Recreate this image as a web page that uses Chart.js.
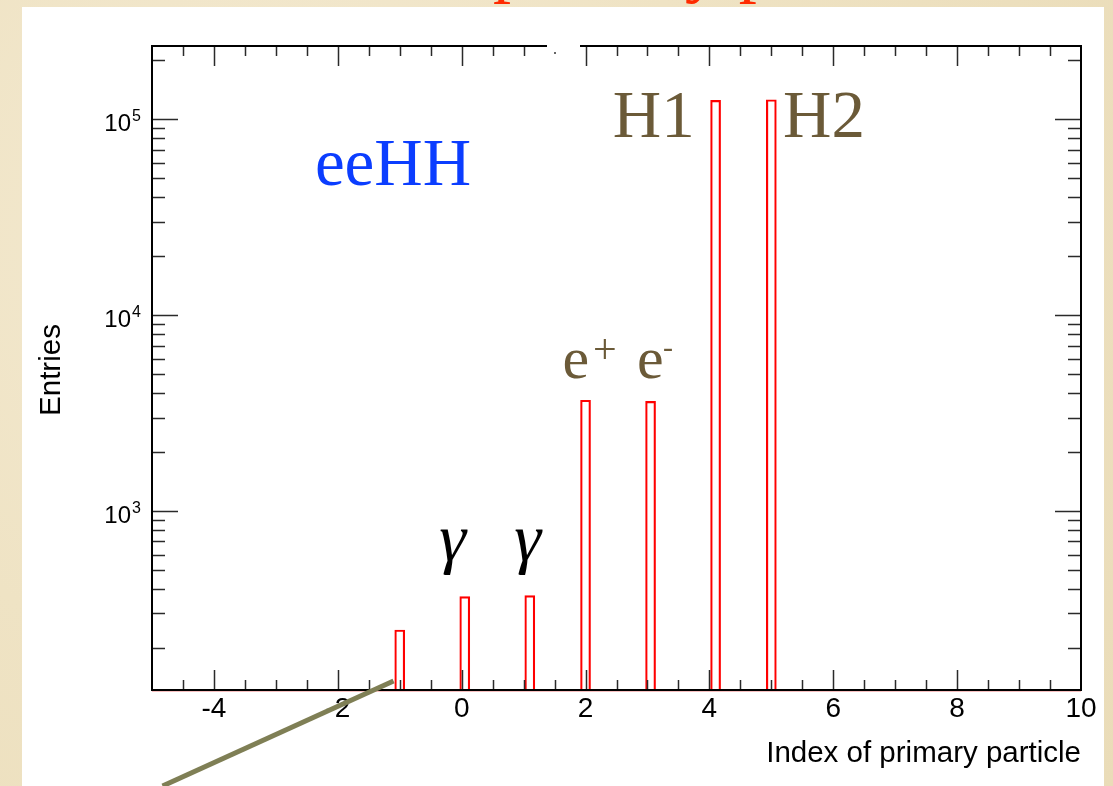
<!DOCTYPE html>
<html>
<head>
<meta charset="utf-8">
<script src="https://cdn.jsdelivr.net/npm/chart.js@4.4.1/dist/chart.umd.min.js"></script>
<style>
  html, body { margin: 0; padding: 0; width: 1113px; height: 786px; overflow: hidden; }
  body {
    background: radial-gradient(circle at 25% 30%, #f4ead2 0%, #efe3c4 45%, #eadcb8 100%);
    position: relative;
  }
  #title {
    position: absolute; left: 233px; top: -71px;
    font: 72px/72px "Liberation Serif", serif; color: #ff2a00; white-space: nowrap;
  }
  #panel { position: absolute; left: 22px; top: 7px; width: 1082px; height: 800px; background: #fff; }
  #chart { position: absolute; left: 0; top: 0; }
</style>
</head>
<body>
<div id="title">Index of primary particle</div>
<div id="panel"></div>
<canvas id="chart" width="1113" height="786"></canvas>
<script>
// histogram bins that have entries (bin centre, entries)
const binCenters = [-1.0, 0.05, 1.1, 2.0, 3.05, 4.1, 5.0];
const entries = [247, 366, 370, 3680, 3630, 125000, 126000];

const xRange = [-5, 10];
const yRange = [122, 237000];
const xTickLabels = [-4, -2, 0, 2, 4, 6, 8, 10];
const yDecades = [1000, 10000, 100000];
const yExponents = ["3", "4", "5"];

// text annotations, placed in data coordinates
const notes = [
  { text: "eeHH", x: -2.37, y: 46000, font: '67px "Liberation Serif"', color: "#0b3dff" },
  { text: "H1", x: 2.44, y: 80900, font: '67px "Liberation Serif"', color: "#6b5a38" },
  { text: "H2", x: 5.19, y: 80900, font: '67px "Liberation Serif"', color: "#6b5a38" },
  { text: "e", x: 1.63, y: 4780, font: '60px "Liberation Serif"', color: "#6b5a38" },
  { text: "+", x: 2.12, y: 5690, font: '42px "Liberation Serif"', color: "#6b5a38" },
  { text: "e", x: 2.83, y: 4780, font: '60px "Liberation Serif"', color: "#6b5a38" },
  { text: "-", x: 3.25, y: 6100, font: '30px "Liberation Serif"', color: "#6b5a38" },
  { text: "\u03b3", x: -0.36, y: 555, font: 'italic 68px "Liberation Serif"', color: "#000" },
  { text: "\u03b3", x: 0.85, y: 555, font: 'italic 68px "Liberation Serif"', color: "#000" },
];

function minorYTicks() {
  const out = [];
  for (let d = 100; d <= 100000; d *= 10) {
    for (let m = 2; m <= 9; m++) {
      const v = m * d;
      if (v > yRange[0] && v < yRange[1]) out.push(v);
    }
  }
  return out;
}

const rootFrame = {
  id: "rootFrame",
  afterDatasetsDraw(chart) {
    const { ctx, chartArea: a, scales: { x, y } } = chart;
    ctx.save();

    // empty-bin outline along the bottom
    ctx.strokeStyle = "#e00000";
    ctx.lineWidth = 1.5;
    ctx.beginPath();
    ctx.moveTo(a.left, a.bottom + 0.5);
    ctx.lineTo(a.right, a.bottom + 0.5);
    ctx.stroke();

    // ticks (inside the frame, on all four sides)
    ctx.strokeStyle = "#2a2a2a";
    ctx.lineWidth = 1.5;
    ctx.beginPath();
    for (let v = xRange[0] + 0.5; v < xRange[1]; v += 0.5) {
      const px = Math.round(x.getPixelForValue(v)) + 0.5;
      const len = Math.abs(v % 2) < 1e-6 ? 20 : 10;
      ctx.moveTo(px, a.bottom); ctx.lineTo(px, a.bottom - len);
      ctx.moveTo(px, a.top); ctx.lineTo(px, a.top + len);
    }
    yDecades.forEach(v => {
      const py = Math.round(y.getPixelForValue(v)) + 0.5;
      ctx.moveTo(a.left, py); ctx.lineTo(a.left + 26, py);
      ctx.moveTo(a.right, py); ctx.lineTo(a.right - 26, py);
    });
    minorYTicks().forEach(v => {
      const py = Math.round(y.getPixelForValue(v)) + 0.5;
      ctx.moveTo(a.left, py); ctx.lineTo(a.left + 13, py);
      ctx.moveTo(a.right, py); ctx.lineTo(a.right - 13, py);
    });
    ctx.stroke();

    // frame
    ctx.strokeStyle = "#000";
    ctx.lineWidth = 2;
    ctx.strokeRect(a.left, a.top, a.right - a.left, a.bottom - a.top);

    // gap in the top edge of the frame
    ctx.fillStyle = "#fff";
    ctx.fillRect(547, a.top - 4, 33, 26);
    ctx.fillStyle = "#666";
    ctx.fillRect(554, a.top + 6, 2, 2);

    // x tick labels
    ctx.fillStyle = "#000";
    ctx.font = '28px "Liberation Sans"';
    ctx.textAlign = "center";
    ctx.textBaseline = "alphabetic";
    xTickLabels.forEach(v => {
      ctx.fillText(String(v), x.getPixelForValue(v), a.bottom + 27);
    });

    // y tick labels: 10^n
    yDecades.forEach((v, i) => {
      const py = y.getPixelForValue(v);
      ctx.font = '24px "Liberation Sans"';
      ctx.textAlign = "right";
      ctx.fillText("10", a.left - 21, py + 12);
      ctx.font = '16px "Liberation Sans"';
      ctx.textAlign = "left";
      ctx.fillText(yExponents[i], a.left - 20, py + 2);
    });

    // axis titles
    ctx.font = '29.5px "Liberation Sans"';
    ctx.textAlign = "right";
    ctx.fillText("Index of primary particle", a.right, a.bottom + 72);
    ctx.save();
    ctx.translate(60, (a.top + a.bottom) / 2 + 2);
    ctx.rotate(-Math.PI / 2);
    ctx.textAlign = "center";
    ctx.fillText("Entries", 0, 0);
    ctx.restore();

    // annotations
    ctx.textAlign = "left";
    notes.forEach(n => {
      ctx.font = n.font;
      ctx.fillStyle = n.color;
      ctx.fillText(n.text, x.getPixelForValue(n.x), y.getPixelForValue(n.y));
    });

    // pointer line
    ctx.strokeStyle = "#7f7f55";
    ctx.lineWidth = 5;
    ctx.lineCap = "butt";
    ctx.beginPath();
    ctx.moveTo(x.getPixelForValue(-4.83), a.bottom + 96);
    ctx.lineTo(x.getPixelForValue(-1.1), a.bottom - 9);
    ctx.stroke();

    ctx.restore();
  }
};

new Chart(document.getElementById("chart"), {
  type: "bar",
  data: {
    datasets: [{
      data: binCenters.map((c, i) => ({ x: c, y: entries[i] })),
      borderColor: "#ff0000",
      backgroundColor: "rgba(255,255,255,0)",
      borderWidth: 1.5,
      borderSkipped: "start",
      barThickness: 10,
    }],
  },
  options: {
    responsive: false,
    animation: false,
    devicePixelRatio: 1,
    layout: { padding: { left: 152, right: 32, top: 46, bottom: 96 } },
    plugins: { legend: { display: false }, tooltip: { enabled: false } },
    scales: {
      x: { type: "linear", min: xRange[0], max: xRange[1], offset: false, display: false },
      y: { type: "logarithmic", min: yRange[0], max: yRange[1], display: false },
    },
  },
  plugins: [rootFrame],
});
</script>
</body>
</html>
